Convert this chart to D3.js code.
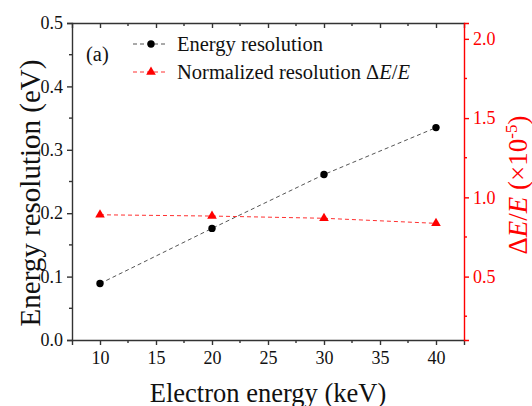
<!DOCTYPE html>
<html>
<head>
<meta charset="utf-8">
<script src="https://cdn.jsdelivr.net/npm/d3@7"></script>
<style>
  body { margin: 0; background: #fff; }
  svg { display: block; font-family: "Liberation Serif", "Times New Roman", serif; }
</style>
</head>
<body>
<div id="chart"></div>
<script>
// electron energy (keV)
const energies = [10, 20, 30, 40];
// energy resolution (eV), left axis
const resolution = [0.089, 0.176, 0.261, 0.335];
// normalized resolution dE/E (x1e-5), right axis
const normalized = [0.89, 0.882, 0.868, 0.836];

const xTicks = [10, 15, 20, 25, 30, 35, 40];
const yLeftTicks = [0.0, 0.1, 0.2, 0.3, 0.4, 0.5];
const yRightTicks = [0.5, 1.0, 1.5, 2.0];

const width = 532, height = 406;
const margin = { top: 23, right: 68, bottom: 66, left: 72 };
const iw = width - margin.left - margin.right;
const ih = height - margin.top - margin.bottom;

const serif = '"Liberation Serif", "Times New Roman", serif';
const axisColor = '#333';
const red = '#ff0000';

const svg = d3.select('#chart').append('svg')
    .attr('width', width)
    .attr('height', height);

const plot = svg.append('g')
    .attr('transform', `translate(${margin.left},${margin.top})`);

const x = d3.scaleLinear().domain([7.5, 42.5]).range([0, iw]);
const yL = d3.scaleLinear().domain([0, 0.5]).range([ih, 0]);
const yR = d3.scaleLinear().domain([0.1, 2.1]).range([ih, 0]);

const minorX = d3.range(12.5, 42.5, 5);
const minorYL = d3.range(0.05, 0.5, 0.1);
const minorYR = [0.25, 0.75, 1.25, 1.75];

// bottom axis
const xAxis = plot.append('g')
    .attr('transform', `translate(0,${ih})`)
    .call(d3.axisBottom(x).tickValues(xTicks).tickSizeOuter(0).tickSize(5).tickPadding(6).tickFormat(d3.format('d')));
xAxis.append('g').selectAll('line').data(minorX).join('line')
    .attr('x1', d => x(d)).attr('x2', d => x(d))
    .attr('y1', 0).attr('y2', 3);

// top axis, ticks pointing in
const topAxis = plot.append('g')
    .call(d3.axisBottom(x).tickValues(xTicks).tickSizeOuter(0).tickSize(5).tickFormat(''));
topAxis.append('g').selectAll('line').data(minorX).join('line')
    .attr('x1', d => x(d)).attr('x2', d => x(d))
    .attr('y1', 0).attr('y2', 3);

// left axis
const yAxisL = plot.append('g')
    .call(d3.axisLeft(yL).tickValues(yLeftTicks).tickSizeOuter(0).tickSize(5).tickPadding(4).tickFormat(d3.format('.1f')));
yAxisL.append('g').selectAll('line').data(minorYL).join('line')
    .attr('x1', 0).attr('x2', -3)
    .attr('y1', d => yL(d)).attr('y2', d => yL(d));

[xAxis, topAxis, yAxisL].forEach(a => {
    a.attr('font-family', serif).attr('font-size', 18);
    a.selectAll('path, line').attr('stroke', axisColor).attr('stroke-width', 1.4);
    a.selectAll('text').attr('fill', '#111').style('font-family', serif);
});

// right axis
const yAxisR = plot.append('g')
    .attr('transform', `translate(${iw},0)`)
    .call(d3.axisRight(yR).tickValues(yRightTicks).tickSizeOuter(0).tickSize(5).tickPadding(4).tickFormat(d3.format('.1f')));
yAxisR.append('g').selectAll('line').data(minorYR).join('line')
    .attr('x1', 0).attr('x2', 3)
    .attr('y1', d => yR(d)).attr('y2', d => yR(d));
yAxisR.attr('font-family', serif).attr('font-size', 18);
yAxisR.selectAll('path, line').attr('stroke', red).attr('stroke-width', 1.4);
yAxisR.selectAll('text').attr('fill', red).style('font-family', serif);

// series lines
const resData = energies.map((e, i) => [e, resolution[i]]);
const normData = energies.map((e, i) => [e, normalized[i]]);

plot.append('path')
    .datum(normData)
    .attr('fill', 'none')
    .attr('stroke', '#ff3030')
    .attr('stroke-width', 1)
    .attr('stroke-dasharray', '4,3')
    .attr('d', d3.line().x(d => x(d[0])).y(d => yR(d[1])));

plot.append('path')
    .datum(resData)
    .attr('fill', 'none')
    .attr('stroke', '#555')
    .attr('stroke-width', 1)
    .attr('stroke-dasharray', '4,3')
    .attr('d', d3.line().x(d => x(d[0])).y(d => yL(d[1])));

const tri = d3.symbol().type(d3.symbolTriangle).size(40);

plot.selectAll('.tri').data(normData).join('path')
    .attr('class', 'tri')
    .attr('d', tri)
    .attr('fill', red)
    .attr('transform', d => `translate(${x(d[0])},${yR(d[1])})`);

plot.selectAll('.dot').data(resData).join('circle')
    .attr('class', 'dot')
    .attr('cx', d => x(d[0]))
    .attr('cy', d => yL(d[1]))
    .attr('r', 3.7)
    .attr('fill', '#000');

// legend
const legend = svg.append('g');
const items = [
    { y: 44, color: '#555', mark: 'circle' },
    { y: 72, color: '#ff3030', mark: 'tri' }
];
items.forEach(it => {
    legend.append('line')
        .attr('x1', 133).attr('x2', 168)
        .attr('y1', it.y).attr('y2', it.y)
        .attr('stroke', it.color)
        .attr('stroke-width', 1)
        .attr('stroke-dasharray', '4,3');
    if (it.mark === 'circle') {
        legend.append('circle').attr('cx', 151).attr('cy', it.y).attr('r', 3.7).attr('fill', '#000');
    } else {
        legend.append('path').attr('d', tri).attr('fill', red)
            .attr('transform', `translate(151,${it.y})`);
    }
});
legend.append('text')
    .attr('x', 177).attr('y', 50.5)
    .style('font-size', '20.5px')
    .attr('fill', '#111')
    .text('Energy resolution');
const t2 = legend.append('text')
    .attr('x', 177).attr('y', 78.5)
    .style('font-size', '20.5px')
    .attr('fill', '#111');
t2.append('tspan').text('Normalized resolution \u0394');
t2.append('tspan').style('font-style', 'italic').text('E');
t2.append('tspan').text('/');
t2.append('tspan').style('font-style', 'italic').text('E');

svg.append('text')
    .attr('x', 86).attr('y', 61)
    .style('font-size', '20.5px')
    .attr('fill', '#111')
    .text('(a)');

// axis titles
svg.append('text')
    .attr('x', 268)
    .attr('y', 402)
    .attr('text-anchor', 'middle')
    .style('font-size', '26.5px')
    .attr('fill', '#111')
    .text('Electron energy (keV)');

svg.append('text')
    .attr('transform', `translate(40,193) rotate(-90)`)
    .attr('text-anchor', 'middle')
    .style('font-size', '29px')
    .attr('fill', '#111')
    .text('Energy resolution (eV)');

const rt = svg.append('text')
    .attr('transform', `translate(527,185) rotate(-90)`)
    .attr('text-anchor', 'middle')
    .style('font-size', '27px')
    .attr('fill', red);
rt.append('tspan').text('\u0394');
rt.append('tspan').style('font-style', 'italic').text('E');
rt.append('tspan').text('/');
rt.append('tspan').style('font-style', 'italic').text('E');
rt.append('tspan').text(' (\u00d710');
rt.append('tspan').attr('dy', -10).style('font-size', '17px').text('-5');
rt.append('tspan').attr('dy', 10).text(')');
</script>
</body>
</html>
